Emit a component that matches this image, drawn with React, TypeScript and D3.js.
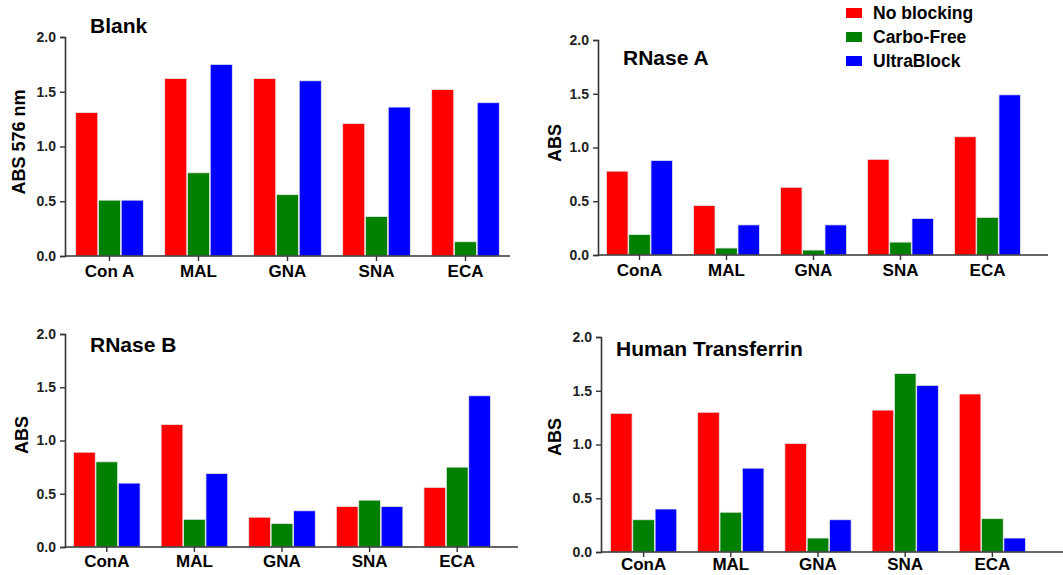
import { useRef, useEffect } from 'react';
import * as d3 from 'd3';

const lectins = ['Con A', 'MAL', 'GNA', 'SNA', 'ECA'];
const lectinsB = ['ConA', 'MAL', 'GNA', 'SNA', 'ECA'];
const seriesNames = ['No blocking', 'Carbo-Free', 'UltraBlock'];
const seriesColors = ['#FF0000', '#008000', '#0000FF'];
const yTicks = [0, 0.5, 1.0, 1.5, 2.0];

// values per panel: [No blocking, Carbo-Free, UltraBlock], each across lectins
const blankNo = [1.31, 1.62, 1.62, 1.21, 1.52];
const blankCarbo = [0.51, 0.76, 0.56, 0.36, 0.13];
const blankUltra = [0.51, 1.75, 1.60, 1.36, 1.40];

const rnaseANo = [0.78, 0.46, 0.63, 0.89, 1.10];
const rnaseACarbo = [0.19, 0.065, 0.046, 0.12, 0.35];
const rnaseAUltra = [0.88, 0.28, 0.28, 0.34, 1.49];

const rnaseBNo = [0.89, 1.15, 0.28, 0.38, 0.56];
const rnaseBCarbo = [0.80, 0.26, 0.22, 0.44, 0.75];
const rnaseBUltra = [0.60, 0.69, 0.34, 0.38, 1.42];

const transNo = [1.29, 1.30, 1.01, 1.32, 1.47];
const transCarbo = [0.30, 0.37, 0.13, 1.66, 0.31];
const transUltra = [0.40, 0.78, 0.30, 1.55, 0.13];

interface PanelLayout {
  title: string;
  yLabel: string;
  cats: string[];
  values: number[][];
  x0: number;      // band range start
  x1: number;      // band range end
  axisX: number;
  axisEnd: number;
  yTop: number;    // pixel for 2.0
  yBottom: number; // pixel for 0
  titleX: number;
  titleY: number;
  labelX: number;
  labelY: number;
  pad: number;     // x tick label padding
}

const panels: PanelLayout[] = [
  {
    title: 'Blank', yLabel: 'ABS 576 nm', cats: lectins,
    values: [blankNo, blankCarbo, blankUltra],
    x0: 65, x1: 510, axisX: 65, axisEnd: 510, yTop: 37, yBottom: 256,
    titleX: 90, titleY: 33, labelX: 19, labelY: 142, pad: 4,
  },
  {
    title: 'RNase A', yLabel: 'ABS', cats: lectinsB,
    values: [rnaseANo, rnaseACarbo, rnaseAUltra],
    x0: 596, x1: 1031, axisX: 598, axisEnd: 1048, yTop: 40, yBottom: 255,
    titleX: 623, titleY: 65, labelX: 555, labelY: 143, pad: 4,
  },
  {
    title: 'RNase B', yLabel: 'ABS', cats: lectinsB,
    values: [rnaseBNo, rnaseBCarbo, rnaseBUltra],
    x0: 63, x1: 501, axisX: 65, axisEnd: 518, yTop: 334, yBottom: 547,
    titleX: 90, titleY: 352, labelX: 22, labelY: 435, pad: 3,
  },
  {
    title: 'Human Transferrin', yLabel: 'ABS', cats: lectinsB,
    values: [transNo, transCarbo, transUltra],
    x0: 600, x1: 1036, axisX: 601, axisEnd: 1063, yTop: 337, yBottom: 552,
    titleX: 616, titleY: 356, labelX: 555, labelY: 437, pad: 1,
  },
];

const FONT = '"Liberation Sans", Arial, sans-serif';

export default function App() {
  const svgRef = useRef<SVGSVGElement>(null);

  useEffect(() => {
    if (!svgRef.current) return;
    const svg = d3.select(svgRef.current);
    svg.selectAll('*').remove();

    svg.append('rect').attr('width', 1063).attr('height', 575).attr('fill', '#fff');

    panels.forEach((p) => {
      const g = svg.append('g');

      const x = d3.scaleBand<string>()
        .domain(p.cats)
        .range([p.x0, p.x1])
        .paddingInner(0.24)
        .paddingOuter(0.12);
      const xs = d3.scaleBand<number>()
        .domain([0, 1, 2])
        .range([0, x.bandwidth()])
        .paddingInner(0.03);
      const y = d3.scaleLinear().domain([0, 2]).range([p.yBottom, p.yTop]);

      // Bars
      p.values.forEach((vals, si) => {
        g.append('g')
          .selectAll('rect')
          .data(vals)
          .join('rect')
          .attr('x', (_, i) => (x(p.cats[i]) ?? 0) + (xs(si) ?? 0))
          .attr('y', (d) => y(d))
          .attr('width', xs.bandwidth())
          .attr('height', (d) => y(0) - y(d))
          .attr('fill', seriesColors[si])
          .attr('stroke', '#e8e8e8')
          .attr('stroke-width', 0.8);
      });

      // Y axis
      const yAxis = g.append('g')
        .attr('transform', `translate(${p.axisX},0)`)
        .call(d3.axisLeft(y).tickValues(yTicks).tickSize(5).tickPadding(4).tickFormat(d3.format('.1f')));
      yAxis.select('.domain').attr('stroke', '#333').attr('stroke-width', 1.6);
      yAxis.selectAll('line').attr('stroke', '#333').attr('stroke-width', 1.4);
      yAxis.selectAll('text')
        .attr('fill', '#222')
        .style('font-family', FONT)
        .style('font-weight', 'bold')
        .style('font-size', '14px');

      // X axis
      const xAxis = g.append('g')
        .attr('transform', `translate(0,${p.yBottom})`)
        .call(d3.axisBottom(x).tickSize(5).tickSizeOuter(0).tickPadding(p.pad));
      xAxis.select('.domain').remove();
      xAxis.append('line')
        .attr('x1', p.axisX).attr('x2', p.axisEnd)
        .attr('stroke', '#333').attr('stroke-width', 1.6);
      xAxis.selectAll('.tick line').attr('stroke', '#333').attr('stroke-width', 1.4);
      xAxis.selectAll('text')
        .attr('fill', '#000')
        .style('font-family', FONT)
        .style('font-weight', 'bold')
        .style('font-size', '17px');

      // Title
      g.append('text')
        .attr('x', p.titleX).attr('y', p.titleY)
        .attr('fill', '#000')
        .style('font-family', FONT)
        .style('font-weight', 'bold')
        .style('font-size', '21px')
        .text(p.title);

      // Y label
      g.append('text')
        .attr('transform', `translate(${p.labelX},${p.labelY}) rotate(-90)`)
        .attr('text-anchor', 'middle')
        .attr('dominant-baseline', 'central')
        .attr('fill', '#000')
        .style('font-family', FONT)
        .style('font-weight', 'bold')
        .style('font-size', '18px')
        .text(p.yLabel);
    });

    // Legend
    const legend = svg.append('g');
    seriesNames.forEach((name, i) => {
      const cy = 13 + i * 24;
      legend.append('rect')
        .attr('x', 846).attr('y', cy - 5)
        .attr('width', 16).attr('height', 10)
        .attr('fill', seriesColors[i]);
      legend.append('text')
        .attr('x', 873).attr('y', cy)
        .attr('dominant-baseline', 'central')
        .attr('fill', '#000')
        .style('font-family', FONT)
        .style('font-weight', 'bold')
        .style('font-size', '17.5px')
        .text(name);
    });
  }, []);

  return (
    <svg
      ref={svgRef}
      width={1063}
      height={575}
      style={{ position: 'absolute', left: 0, top: 0, display: 'block' }}
    />
  );
}
